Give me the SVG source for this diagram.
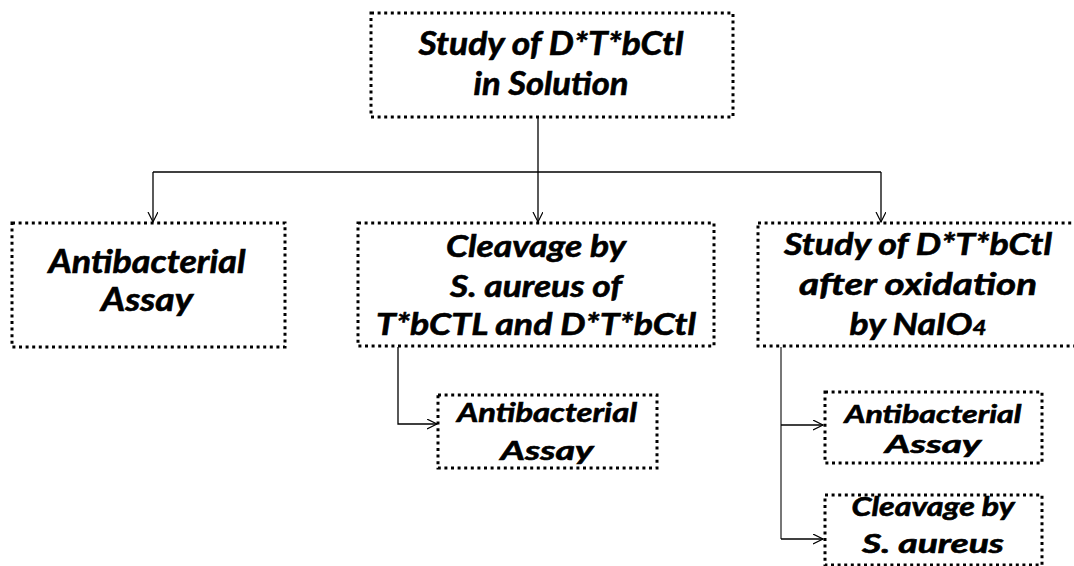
<svg xmlns="http://www.w3.org/2000/svg" width="1074" height="566" viewBox="0 0 1074 566">
<style>
.box{fill:#fff;stroke:#000;stroke-width:3;stroke-dasharray:3 3.6}
.t{font-family:Lato,"Open Sans","Liberation Sans",sans-serif;font-weight:bold;font-style:italic;fill:#000;stroke:#000;stroke-width:0.6;text-anchor:middle}
.c{fill:none;stroke:#000;stroke-width:1.3}
.g{fill:none;stroke:#555;stroke-width:1.6}
</style>
<defs>
<marker id="ah" markerUnits="userSpaceOnUse" markerWidth="12" markerHeight="12" refX="10" refY="5" orient="auto" viewBox="0 0 12 12">
<path d="M0,0 L10,5 L0,10" fill="none" stroke="#000" stroke-width="1.2"/>
</marker>
</defs>
<rect width="1074" height="566" fill="#fff"/>
<g id="connectors">
<path class="c" d="M538,117 V172"/>
<path class="c" d="M153,172 H881"/>
<path class="c" d="M153,172 V222" marker-end="url(#ah)"/>
<path class="c" d="M538,172 V222" marker-end="url(#ah)"/>
<path class="c" d="M881,172 V222" marker-end="url(#ah)"/>
<path class="c" d="M398,347 V424 H437" marker-end="url(#ah)"/>
<path class="g" d="M781,347 V539"/>
<path class="c" d="M781,425 H823" marker-end="url(#ah)"/>
<path class="c" d="M781,539 H823" marker-end="url(#ah)"/>
</g>
<g id="top">
<rect class="box" x="371" y="13" width="362" height="104"/>
<text class="t" x="551" y="55" font-size="32" textLength="265" lengthAdjust="spacingAndGlyphs">Study of D*T*bCtl</text>
<text class="t" x="551" y="95" font-size="32" textLength="155" lengthAdjust="spacingAndGlyphs">in Solution</text>
</g>
<g id="assay1">
<rect class="box" x="12" y="223" width="273" height="124"/>
<text class="t" x="147" y="273" font-size="32" textLength="197" lengthAdjust="spacingAndGlyphs">Antibacterial</text>
<text class="t" x="147" y="311" font-size="32" textLength="92" lengthAdjust="spacingAndGlyphs">Assay</text>
</g>
<g id="cleavage">
<rect class="box" x="358" y="223" width="356" height="123"/>
<text class="t" x="536" y="257" font-size="31" textLength="180" lengthAdjust="spacingAndGlyphs">Cleavage by</text>
<text class="t" x="536" y="297" font-size="31" textLength="172" lengthAdjust="spacingAndGlyphs">S. aureus of</text>
<text class="t" x="536" y="335" font-size="31" textLength="320" lengthAdjust="spacingAndGlyphs">T*bCTL and D*T*bCtl</text>
</g>
<g id="assay2">
<rect class="box" x="438" y="395" width="219" height="73"/>
<text class="t" x="547" y="422" font-size="27" textLength="180" lengthAdjust="spacingAndGlyphs">Antibacterial</text>
<text class="t" x="547" y="460" font-size="27" textLength="93" lengthAdjust="spacingAndGlyphs">Assay</text>
</g>
<g id="oxidation">
<rect class="box" x="758" y="223" width="322" height="123"/>
<text class="t" x="918" y="255" font-size="31" textLength="268" lengthAdjust="spacingAndGlyphs">Study of D*T*bCtl</text>
<text class="t" x="918" y="295" font-size="31" textLength="238" lengthAdjust="spacingAndGlyphs">after oxidation</text>
<text class="t" x="918" y="335" font-size="31" textLength="137" lengthAdjust="spacingAndGlyphs">by NaIO<tspan font-size="21">4</tspan></text>
</g>
<g id="assay3">
<rect class="box" x="825" y="392" width="217" height="71"/>
<text class="t" x="933" y="423" font-size="25" textLength="177" lengthAdjust="spacingAndGlyphs">Antibacterial</text>
<text class="t" x="933" y="453" font-size="25" textLength="96" lengthAdjust="spacingAndGlyphs">Assay</text>
</g>
<g id="cleavage2">
<rect class="box" x="825" y="495" width="217" height="70"/>
<text class="t" x="933" y="516" font-size="26" textLength="163" lengthAdjust="spacingAndGlyphs">Cleavage by</text>
<text class="t" x="933" y="553" font-size="26" textLength="142" lengthAdjust="spacingAndGlyphs">S. aureus</text>
</g>
</svg>
